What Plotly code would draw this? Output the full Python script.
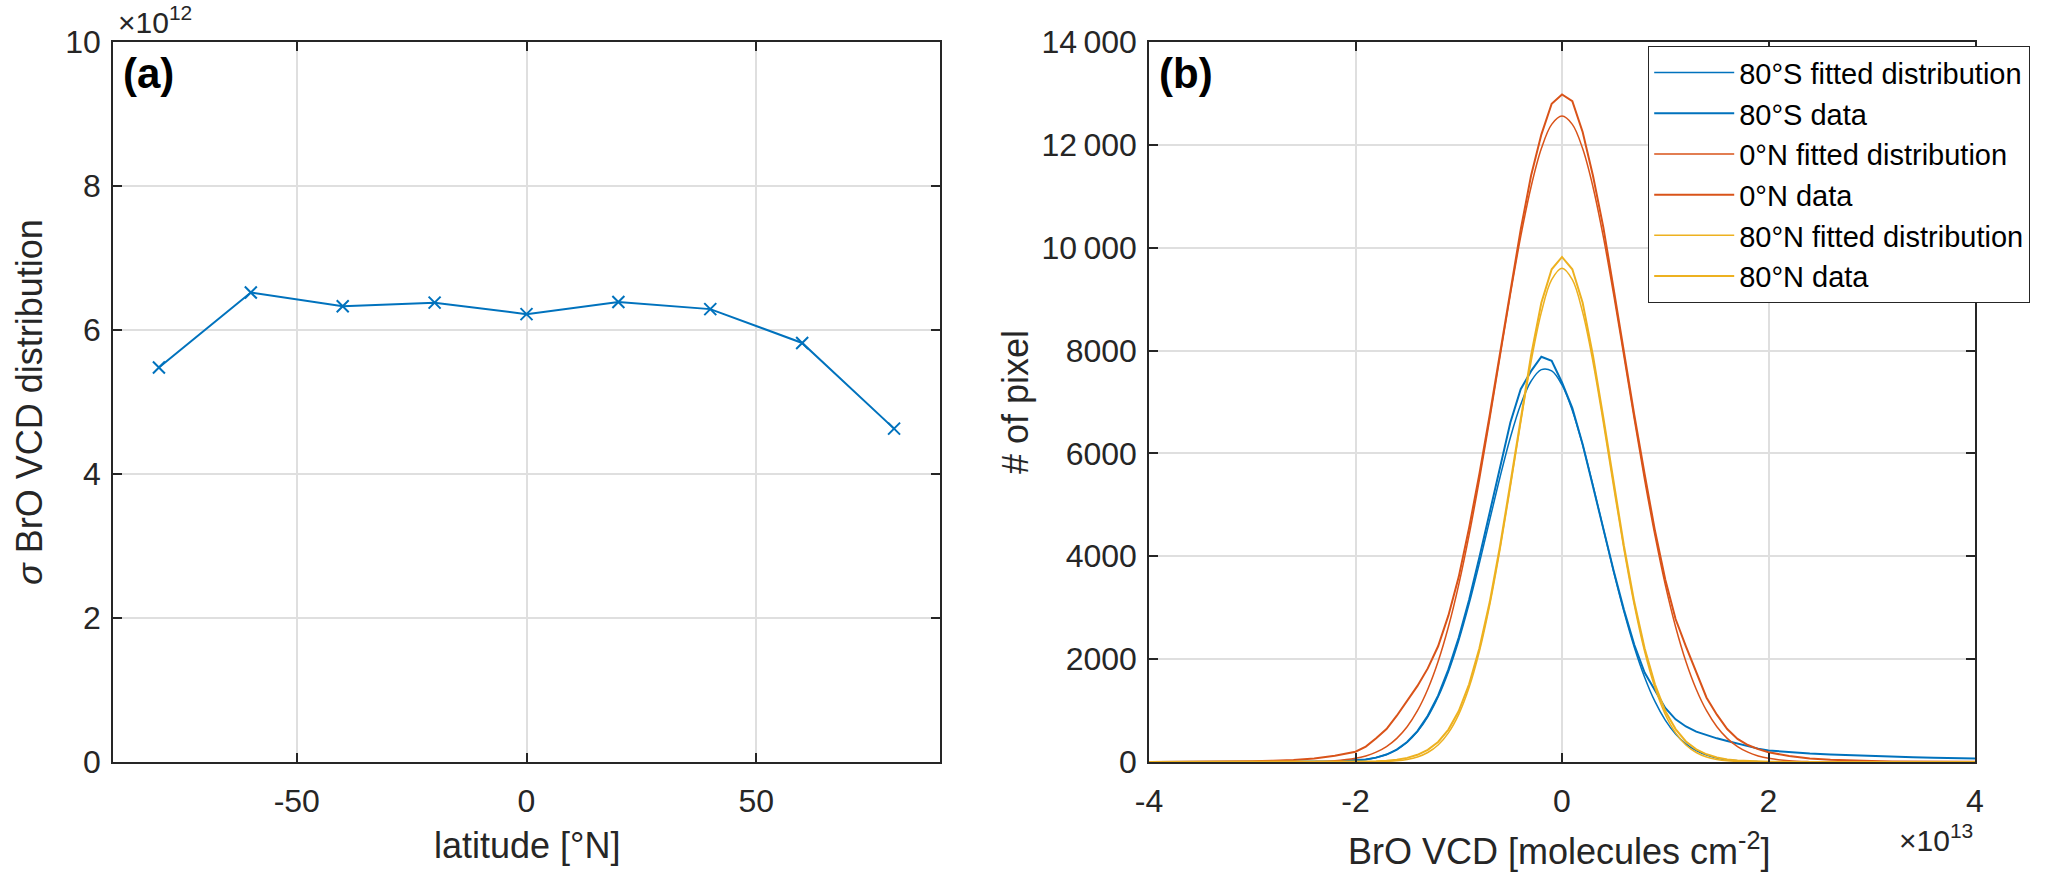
import plotly.graph_objects as go

FONT = "Liberation Sans, Arial, Helvetica, sans-serif"
AX_COLOR = "#262626"
GRID = "#dfdfdf"
BLUE = "#0072BD"
RED = "#D95319"
YELLOW = "#EDB120"

# ---------------- panel (a) ----------------
latitude = [-80, -60, -40, -20, 0, 20, 40, 60, 80]
sigma_vcd_e12 = [5.48, 6.52, 6.33, 6.38, 6.22, 6.39, 6.29, 5.82, 4.63]

# ---------------- panel (b) ----------------
# BrO VCD in units of 1e13 molecules cm^-2
vcd_e13 = [-4.0, -3.5, -3.0, -2.8, -2.6, -2.4, -2.2,
           -2.0, -1.9, -1.8, -1.7, -1.6, -1.5, -1.4, -1.3, -1.2, -1.1,
           -1.0, -0.9, -0.8, -0.7, -0.6, -0.5, -0.4, -0.3, -0.2, -0.1,
           0.0, 0.1, 0.2, 0.3, 0.4, 0.5, 0.6, 0.7, 0.8, 0.9,
           1.0, 1.1, 1.2, 1.3, 1.4, 1.5, 1.6, 1.7, 1.8, 1.9,
           2.0, 2.2, 2.4, 2.6, 2.8, 3.0, 3.2, 3.4, 3.6, 3.8, 4.0]

s80_fit = [0, 0, 0, 0, 0, 2, 7,
           27, 50, 87, 147, 242, 385, 591, 879, 1264, 1757,
           2363, 3074, 3868, 4708, 5542, 6311, 6950, 7404, 7630, 7604,
           7331, 6836, 6165, 5379, 4538, 3704, 2924, 2233, 1649, 1178,
           814, 544, 352, 220, 133, 78, 44, 24, 13, 7,
           3, 1, 0, 0, 0, 0, 0, 0, 0, 0, 0]
s80_data = [0, 0, 2, 3, 5, 8, 15,
            30, 50, 85, 145, 240, 390, 600, 900, 1290, 1800,
            2420, 3150, 3980, 4850, 5750, 6600, 7250, 7600, 7880, 7800,
            7380, 6880, 6180, 5360, 4520, 3720, 2960, 2280, 1740, 1380,
            1050, 830, 690, 590, 520, 460, 410, 360, 310, 260,
            225, 190, 165, 148, 130, 112, 100, 90, 82, 74, 68]

n0_fit = [0, 0, 0, 0, 2, 7, 24,
          71, 118, 191, 300, 460, 686, 997, 1414, 1953, 2629,
          3449, 4410, 5493, 6668, 7888, 9092, 10214, 11181, 11927, 12399,
          12560, 12399, 11927, 11181, 10214, 9092, 7888, 6668, 5493, 4410,
          3449, 2629, 1953, 1414, 997, 686, 460, 300, 191, 118,
          71, 24, 7, 2, 0, 0, 0, 0, 0, 0, 0]
n0_data = [2, 5, 15, 25, 40, 70, 120,
           200, 300, 460, 640, 900, 1180, 1480, 1820, 2250, 2850,
           3600, 4550, 5600, 6750, 7950, 9150, 10350, 11400, 12200, 12800,
           12980, 12850, 12250, 11400, 10400, 9200, 7950, 6750, 5600, 4500,
           3550, 2780, 2250, 1750, 1250, 920, 640, 450, 330, 250,
           190, 115, 70, 45, 28, 18, 12, 8, 6, 4, 3]

n80_fit = [0, 0, 0, 0, 0, 0, 0,
           1, 2, 5, 11, 24, 50, 98, 185, 331, 567,
           927, 1446, 2150, 3054, 4138, 5352, 6605, 7778, 8743, 9378,
           9600, 9378, 8743, 7778, 6605, 5352, 4138, 3054, 2150, 1446,
           927, 567, 331, 185, 98, 50, 24, 11, 5, 2,
           1, 0, 0, 0, 0, 0, 0, 0, 0, 0, 0]
n80_data = [0, 0, 0, 0, 0, 1, 2,
            5, 8, 14, 25, 45, 80, 140, 235, 390, 630,
            990, 1510, 2210, 3110, 4200, 5420, 6700, 7900, 8930, 9580,
            9820, 9580, 8930, 7900, 6700, 5420, 4200, 3110, 2210, 1510,
            990, 640, 400, 245, 150, 88, 50, 28, 16, 9,
            5, 2, 1, 0, 0, 0, 0, 0, 0, 0, 0]

lat_ticks = [-50, 0, 50]
lat_ticktext = ["-50", "0", "50"]
sig_ticks = [0, 2, 4, 6, 8, 10]
vcd_ticks = [-4, -2, 0, 2, 4]
vcd_ticktext = ["-4", "-2", "0", "2", "4"]
pix_ticks = [0, 2000, 4000, 6000, 8000, 10000, 12000, 14000]
pix_ticktext = ["0", "2000", "4000", "6000", "8000", "10\u2009000", "12\u2009000", "14\u2009000"]

series = [
    ("80°S fitted distribution", s80_fit, BLUE, "spline", 1.5),
    ("80°S data", s80_data, BLUE, "linear", 2),
    ("0°N fitted distribution", n0_fit, RED, "spline", 1.5),
    ("0°N data", n0_data, RED, "linear", 2),
    ("80°N fitted distribution", n80_fit, YELLOW, "spline", 1.5),
    ("80°N data", n80_data, YELLOW, "linear", 2),
]

W, H = 2067, 876

fig = go.Figure()
fig.add_trace(go.Scatter(
    x=latitude, y=sigma_vcd_e12, mode="lines+markers",
    line=dict(color=BLUE, width=2),
    marker=dict(symbol="x-thin", size=12, line=dict(color=BLUE, width=2)),
    showlegend=False, xaxis="x", yaxis="y"))

for name, vals, col, shape, w in series:
    fig.add_trace(go.Scatter(
        x=vcd_e13, y=vals, mode="lines", name=name,
        line=dict(color=col, width=w, shape=shape),
        xaxis="x2", yaxis="y2"))

ax_common = dict(
    showline=True, linecolor=AX_COLOR, linewidth=1.5, mirror="ticks",
    ticks="inside", ticklen=9, tickwidth=1.5, tickcolor=AX_COLOR,
    showgrid=True, gridcolor=GRID, gridwidth=1.5, zeroline=False,
    tickfont=dict(family=FONT, size=32, color=AX_COLOR), tickmode="array",
    automargin=False,
)

ydom = [114 / H, 834 / H]
fig.update_layout(
    template="none",
    width=W, height=H, autosize=False,
    margin=dict(l=0, r=0, t=0, b=0, pad=0, autoexpand=False),
    paper_bgcolor="white", plot_bgcolor="white",
    font=dict(family=FONT, color=AX_COLOR),
    xaxis=dict(domain=[113 / W, 940 / W], range=[-90, 90],
               tickvals=lat_ticks, ticktext=lat_ticktext,
               ticklabelstandoff=10, anchor="y", **ax_common),
    yaxis=dict(domain=ydom, range=[0, 10], tickvals=sig_ticks,
               ticklabelstandoff=4, anchor="x", **ax_common),
    xaxis2=dict(domain=[1149 / W, 1975 / W], range=[-4, 4],
                tickvals=vcd_ticks, ticktext=vcd_ticktext,
                ticklabelstandoff=10, anchor="y2", **ax_common),
    yaxis2=dict(domain=ydom, range=[0, 14000], tickvals=pix_ticks,
                ticktext=pix_ticktext, ticklabelstandoff=4,
                anchor="x2", **ax_common),
    legend=dict(x=1648 / W, y=1 - 46 / H, xanchor="left", yanchor="top",
                bgcolor="white", bordercolor=AX_COLOR, borderwidth=1.2,
                font=dict(family=FONT, size=29, color="black"),
                itemwidth=80, tracegroupgap=0),
)

ann = [
    dict(text="×10<sup>12</sup>", x=116 / W, y=1 - 20 / H, xanchor="left", yanchor="middle",
         font=dict(size=30, color=AX_COLOR)),
    dict(text="×10<sup>13</sup>", x=1975 / W, y=1 - 838 / H, xanchor="right", yanchor="middle",
         font=dict(size=30, color=AX_COLOR)),
    dict(text="<b>(a)</b>", x=121 / W, y=1 - 74 / H, xanchor="left", yanchor="middle",
         font=dict(size=42, color="black")),
    dict(text="<b>(b)</b>", x=1157 / W, y=1 - 74 / H, xanchor="left", yanchor="middle",
         font=dict(size=42, color="black")),
    dict(text="latitude [°N]", x=527 / W, y=1 - 845 / H, xanchor="center", yanchor="middle",
         font=dict(size=36, color=AX_COLOR)),
    dict(text="BrO VCD [molecules cm<sup>-2</sup>]", x=1559 / W, y=1 - 849 / H,
         xanchor="center", yanchor="middle", font=dict(size=36, color=AX_COLOR)),
    dict(text="<i>σ</i> BrO VCD distribution", x=30 / W, y=sum(ydom) / 2, textangle=-90,
         xanchor="center", yanchor="middle", font=dict(size=36, color=AX_COLOR)),
    dict(text="# of pixel", x=1016 / W, y=sum(ydom) / 2, textangle=-90,
         xanchor="center", yanchor="middle", font=dict(size=36, color=AX_COLOR)),
]
for a in ann:
    a.update(xref="paper", yref="paper", showarrow=False)
    a["font"]["family"] = FONT
fig.update_layout(annotations=ann)

fig.write_html(
    "out.html",
    config={"displayModeBar": False},
    post_script="document.body.style.margin='0px';document.body.style.overflow='hidden';",
)
